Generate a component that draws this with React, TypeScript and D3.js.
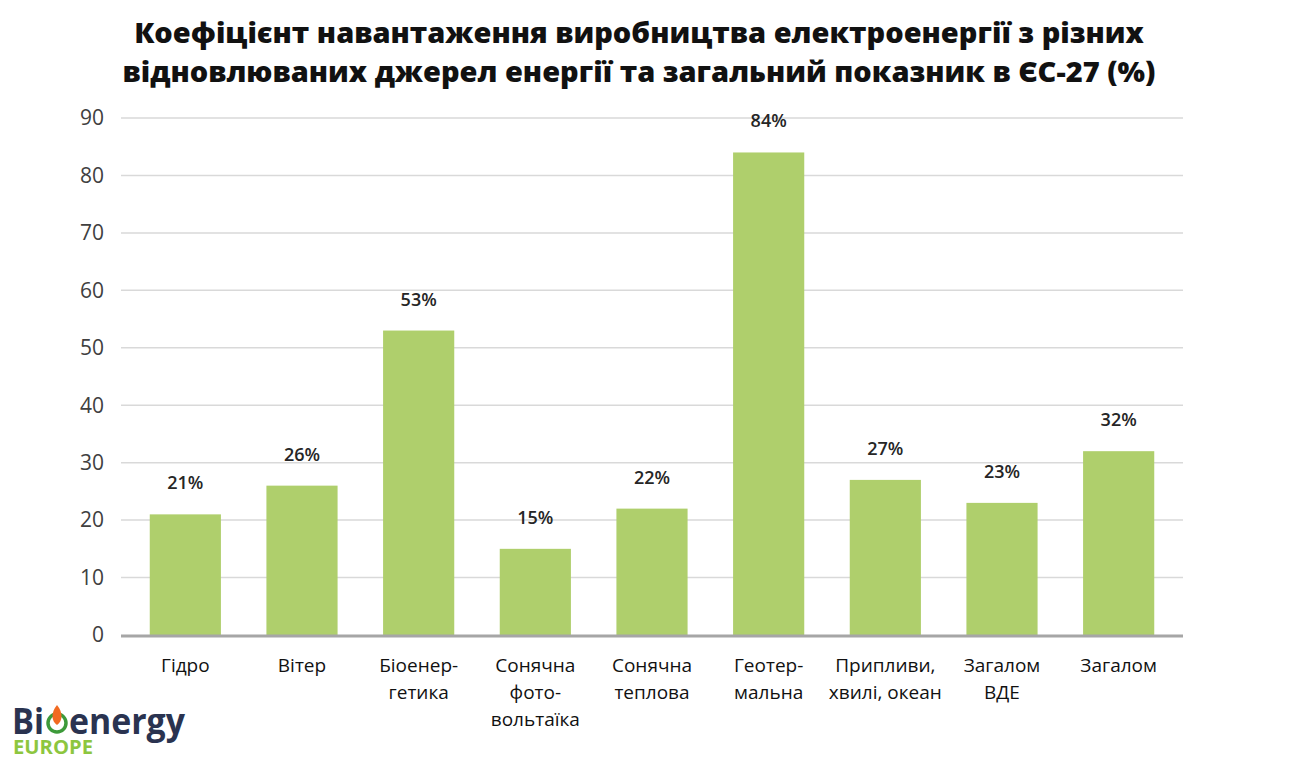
import React, { useRef, useEffect } from "react";
import * as d3 from "d3";

// categories (multi-line labels split with "|")
const categories = [
  "Гідро",
  "Вітер",
  "Біоенер-|гетика",
  "Сонячна|фото-|вольтаїка",
  "Сонячна|теплова",
  "Геотер-|мальна",
  "Припливи,|хвилі, океан",
  "Загалом|ВДЕ",
  "Загалом",
];
const values = [21, 26, 53, 15, 22, 84, 27, 23, 32];
const yTicks = [0, 10, 20, 30, 40, 50, 60, 70, 80, 90];
const titleLines = [
  "Коефіцієнт навантаження виробництва електроенергії з різних",
  "відновлюваних джерел енергії та загальний показник в ЄС-27 (%)",
];

const App = () => {
  const container = useRef(null);

  const width = 1301;
  const height = 770;

  useEffect(() => {
    const svg = d3.select(container.current);
    svg.selectAll("*").remove();

    svg.append("rect").attr("width", width).attr("height", height).attr("fill", "#fff");

    // scales
    const xScale = d3
      .scaleBand()
      .domain(categories)
      .range([127, 1177])
      .paddingInner(0.39)
      .paddingOuter(0.195);

    const yScale = d3.scaleLinear().domain([0, 90]).range([635, 118]);

    // title
    svg
      .append("g")
      .selectAll("text")
      .data(titleLines)
      .enter()
      .append("text")
      .attr("x", 639)
      .attr("y", (d, i) => 43 + i * 39)
      .attr("text-anchor", "middle")
      .style("font-family", "'Open Sans', sans-serif")
      .style("font-weight", 800)
      .style("font-size", "29px")
      .style("fill", "#111")
      .text((d) => d);

    // gridlines
    svg
      .append("g")
      .selectAll("line")
      .data(yTicks.filter((t) => t > 0))
      .enter()
      .append("line")
      .attr("x1", 121)
      .attr("x2", 1183)
      .attr("y1", (d) => yScale(d))
      .attr("y2", (d) => yScale(d))
      .attr("stroke", "#d9d9d9")
      .attr("stroke-width", 1.5);

    // y tick labels
    svg
      .append("g")
      .selectAll("text")
      .data(yTicks)
      .enter()
      .append("text")
      .attr("x", 104)
      .attr("y", (d) => yScale(d))
      .attr("dy", "0.35em")
      .attr("text-anchor", "end")
      .style("font-family", "'Open Sans', sans-serif")
      .style("font-size", "21px")
      .style("fill", "#404040")
      .text((d) => d);

    // bars
    svg
      .append("g")
      .selectAll("rect")
      .data(values)
      .enter()
      .append("rect")
      .attr("x", (d, i) => xScale(categories[i]))
      .attr("y", (d) => yScale(d))
      .attr("width", xScale.bandwidth())
      .attr("height", (d) => yScale(0) - yScale(d))
      .attr("fill", "#afcf6c");

    // value labels
    svg
      .append("g")
      .selectAll("text")
      .data(values)
      .enter()
      .append("text")
      .attr("x", (d, i) => xScale(categories[i]) + xScale.bandwidth() / 2)
      .attr("y", (d) => yScale(d) - 25)
      .attr("text-anchor", "middle")
      .style("font-family", "'Open Sans', sans-serif")
      .style("font-weight", 600)
      .style("font-size", "18px")
      .style("fill", "#262626")
      .text((d) => d + "%");

    // x axis line
    svg
      .append("line")
      .attr("x1", 121)
      .attr("x2", 1183)
      .attr("y1", 636)
      .attr("y2", 636)
      .attr("stroke", "#a6a6a6")
      .attr("stroke-width", 3);

    // category labels
    const cat = svg
      .append("g")
      .selectAll("text")
      .data(categories)
      .enter()
      .append("text")
      .attr("text-anchor", "middle")
      .style("font-family", "'Open Sans', sans-serif")
      .style("font-size", "19px")
      .style("fill", "#111");

    cat
      .selectAll("tspan")
      .data((d) => d.split("|").map((line) => ({ line, key: d })))
      .enter()
      .append("tspan")
      .attr("x", (d) => xScale(d.key) + xScale.bandwidth() / 2)
      .attr("y", (d, i) => 672 + i * 27)
      .text((d) => d.line);

    // logo
    const logo = svg.append("g");
    logo
      .append("text")
      .attr("x", 12)
      .attr("y", 734)
      .attr("textLength", 32)
      .attr("lengthAdjust", "spacingAndGlyphs")
      .style("font-family", "'Open Sans', sans-serif")
      .style("font-weight", 700)
      .style("font-size", "35px")
      .style("fill", "#2a3350")
      .text("Bi");
    logo
      .append("text")
      .attr("x", 69)
      .attr("y", 734)
      .attr("textLength", 116)
      .attr("lengthAdjust", "spacingAndGlyphs")
      .style("font-family", "'Open Sans', sans-serif")
      .style("font-weight", 700)
      .style("font-size", "35px")
      .style("fill", "#2a3350")
      .text("energy");
    logo
      .append("circle")
      .attr("cx", 57)
      .attr("cy", 723)
      .attr("r", 9)
      .attr("fill", "none")
      .attr("stroke", "#3d9a3a")
      .attr("stroke-width", 3.5);
    logo
      .append("path")
      .attr("d", "M57,705 C51,712 51,721 57,725 C63,721 63,712 57,705 Z")
      .attr("fill", "#f26a21");
    logo
      .append("text")
      .attr("x", 13)
      .attr("y", 754)
      .attr("textLength", 80)
      .attr("lengthAdjust", "spacingAndGlyphs")
      .style("font-family", "'Open Sans', sans-serif")
      .style("font-weight", 700)
      .style("font-size", "19px")
      .style("fill", "#8dc63f")
      .text("EUROPE");
  }, []);

  return (
    <svg
      ref={container}
      width={width}
      height={height}
      style={{ position: "absolute", left: 0, top: 0 }}
    />
  );
};

export default App;
